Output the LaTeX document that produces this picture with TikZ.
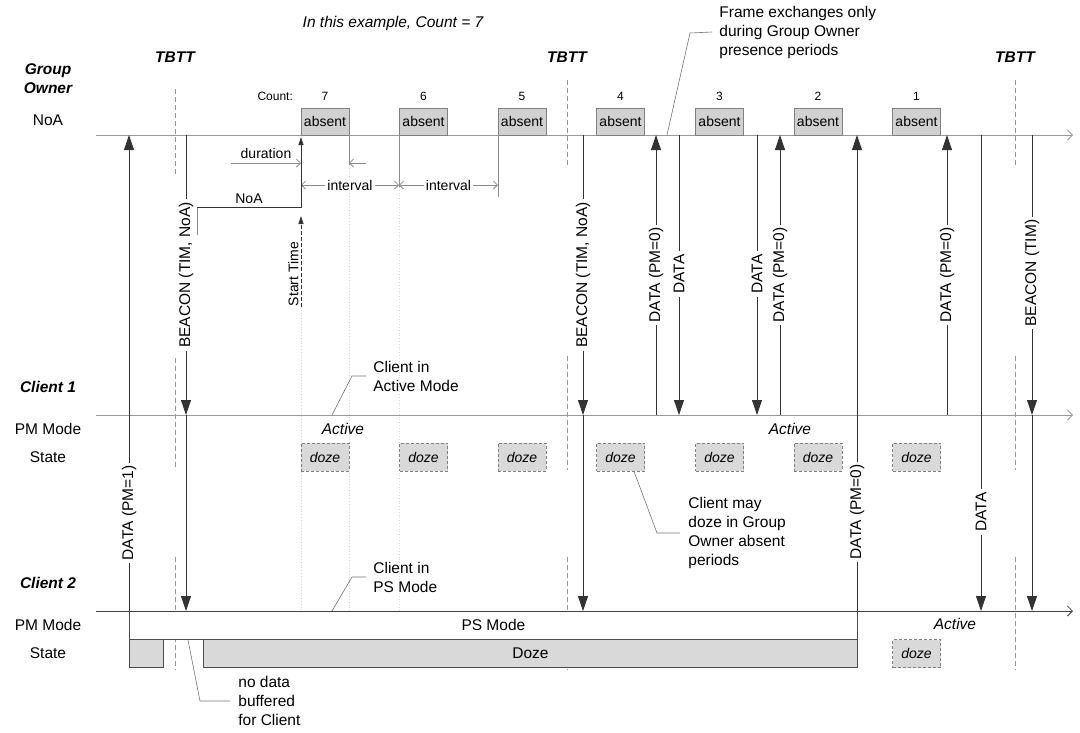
\documentclass[tikz,border=0pt]{standalone}
\usepackage{fontspec}
\setmainfont{Liberation Sans}
\usetikzlibrary{positioning, arrows.meta}

\begin{document}
\begin{tikzpicture}[
    x=1pt, y=-1pt,
    line width=0.8pt,
    node distance=7pt,
    every node/.style={font=\fontsize{15.5}{19}\selectfont, inner sep=0pt},
    lane/.style={font=\fontsize{15.5}{19}\selectfont\bfseries\itshape, align=center},
    small/.style={font=\fontsize{14}{17}\selectfont},
    cnt/.style={font=\fontsize{12}{14}\selectfont},
    mode/.style={font=\fontsize{15.5}{19}\selectfont\itshape},
    axis/.style={draw=black!40, -{Straight Barb[length=5pt,width=10pt]}},
    msg/.style={draw=black!80, -{Triangle[length=15pt,width=10pt]}},
    tick/.style={draw=black!80, -{Triangle[length=8pt,width=5pt]}},
    vlbl/.style={rotate=90, fill=white, inner xsep=3pt, inner ysep=1pt},
    absbox/.style={draw=black!50, fill=black!18, minimum width=48pt, minimum height=27pt, font=\fontsize{14}{17}\selectfont},
    dozebox/.style={draw=black!50, dash pattern=on 3pt off 2pt, fill=black!15, minimum width=48pt, minimum height=28pt, font=\fontsize{14}{17}\selectfont\itshape},
    statebar/.style={draw=black!70, fill=black!15, minimum height=28pt, anchor=north west},
    tbttline/.style={draw=black!40, dash pattern=on 5pt off 3pt},
    guide/.style={draw=black!45},
    faint/.style={draw=black!15, dotted},
    dimarr/.style={draw=black!45, -{Straight Barb[length=4pt,width=8pt]}},
    dimboth/.style={draw=black!45, {Straight Barb[length=4pt,width=8pt]}-{Straight Barb[length=4pt,width=8pt]}},
    leader/.style={draw=black!55, line width=0.6pt},
    note/.style={align=left, anchor=west},
]
    \useasboundingbox (0,0) rectangle (1080,732);
    \def\yGO{135}
    \def\yCa{415}
    \def\yCb{611}

    % 1. Lane labels
    \node[lane] (go_lbl) at (48,79) {Group\\Owner};
    \node (go_noa) at (48,120) {NoA};
    \node[lane] (c1_lbl) at (48,387) {Client 1};
    \node (c1_pm) at (48,429) {PM Mode};
    \node (c1_st) at (48,457) {State};
    \node[lane] (c2_lbl) at (48,583) {Client 2};
    \node (c2_pm) at (48,625) {PM Mode};
    \node (c2_st) at (48,653) {State};

    % 2. Title and TBTT marks
    \node[mode] (title) at (393,23) {In this example, Count = 7};
    \node[lane] (tbtt_a) at (175,57) {TBTT};
    \node[lane] (tbtt_b) at (567,57) {TBTT};
    \node[lane] (tbtt_c) at (1015,57) {TBTT};
    \draw[tbttline] (175,89) -- (175,175);
    \draw[tbttline] (175,358) -- (175,470);
    \draw[tbttline] (175,557) -- (175,670);
    \draw[tbttline] (567,80) -- (567,165);
    \draw[tbttline] (567,356) -- (567,470);
    \draw[tbttline] (567,557) -- (567,670);
    \draw[tbttline] (1015,80) -- (1015,165);
    \draw[tbttline] (1015,356) -- (1015,470);
    \draw[tbttline] (1015,557) -- (1015,670);

    % 3. Time lines
    \coordinate (go_start) at (96,\yGO);
    \coordinate (go_end) at (1073,\yGO);
    \coordinate (c1_start) at (96,\yCa);
    \coordinate (c1_end) at (1073,\yCa);
    \coordinate (c2_start) at (96,\yCb);
    \coordinate (c2_end) at (1073,\yCb);
    \draw[axis] (go_start) -- (go_end);
    \draw[axis] (c1_start) -- (c1_end);

    % 4. Absent periods of the Group Owner
    \node[absbox] (abs7) at (325,121.5) {absent};
    \node[absbox] (abs6) at (423.5,121.5) {absent};
    \node[absbox] (abs5) at (522,121.5) {absent};
    \node[absbox] (abs4) at (620.5,121.5) {absent};
    \node[absbox] (abs3) at (719.5,121.5) {absent};
    \node[absbox] (abs2) at (818,121.5) {absent};
    \node[absbox] (abs1) at (916.5,121.5) {absent};
    \node[cnt, above=of abs7] (cnt7) {7};
    \node[cnt, above=of abs6] (cnt6) {6};
    \node[cnt, above=of abs5] (cnt5) {5};
    \node[cnt, above=of abs4] (cnt4) {4};
    \node[cnt, above=of abs3] (cnt3) {3};
    \node[cnt, above=of abs2] (cnt2) {2};
    \node[cnt, above=of abs1] (cnt1) {1};
    \node[cnt, left=28pt of cnt7] (cnt_lbl) {Count:};

    % 5. NoA timing: duration, interval, start time
    \draw[faint] (301,307) -- (301,\yCb);
    \draw[faint] (349,165) -- (349,\yCb);
    \draw[faint] (399,187) -- (399,\yCb);
    \draw[guide] (349,\yGO) -- (349,165);
    \draw[guide] (399,\yGO) -- (399,187);
    \draw[guide] (498,\yGO) -- (498,197);
    \draw[dimarr] (231,163) -- node[small, above=4pt] (dur_lbl) {duration} (301,163);
    \draw[dimarr] (366,163) -- (349,163);
    \draw[dimboth] (301,185) -- node[small, fill=white, inner xsep=2pt] (int_a) {interval} (399,185);
    \draw[dimboth] (399,185) -- node[small, fill=white, inner xsep=2pt] (int_b) {interval} (498,185);
    \draw[guide] (197,235) -- (197,207);
    \draw[tick] (197,207) -- node[small, above=3pt] (noa_lbl) {NoA} (301,207) -- (301,137);
    \draw[tick, dash pattern=on 4pt off 2pt] (301,307) -- (301,216);
    \node[small, rotate=90, anchor=south] (st_lbl) at (299,274) {Start Time};

    % 6. Client 1 states
    \node[mode] (c1_act_a) at (343,429) {Active};
    \node[mode] (c1_act_b) at (790,429) {Active};
    \node[dozebox] (doze7) at (325,457) {doze};
    \node[dozebox] (doze6) at (423.5,457) {doze};
    \node[dozebox] (doze5) at (522,457) {doze};
    \node[dozebox] (doze4) at (620.5,457) {doze};
    \node[dozebox] (doze3) at (719.5,457) {doze};
    \node[dozebox] (doze2) at (818,457) {doze};
    \node[dozebox] (doze1) at (916.5,457) {doze};

    % 7. Client 2 states
    \node[draw=black!70, fill=white, minimum width=728pt, minimum height=28pt, anchor=north west] (c2_ps) at (129,\yCb) {PS Mode};
    \node[statebar, minimum width=34pt] (c2_dz_a) at (129,639) {};
    \node[statebar, minimum width=654pt] (c2_dz_b) at (203,639) {Doze};
    \node[mode] (c2_act) at (955,624) {Active};
    \node[dozebox] (c2_doze) at (916.5,653.5) {doze};
    \draw[axis, draw=black!75] (c2_start) -- (c2_end);

    % --- Frame exchanges ---
    \draw[msg] (129,\yCb) -- (129,\yGO);
    \draw[msg] (186,\yGO) -- (186,\yCa);
    \draw[msg] (186,\yCa) -- (186,\yCb);
    \draw[msg] (583,\yGO) -- (583,\yCa);
    \draw[msg] (583,\yCa) -- (583,\yCb);
    \draw[msg] (656,\yCa) -- (656,\yGO);
    \draw[msg] (679,\yGO) -- (679,\yCa);
    \draw[msg] (757,\yGO) -- (757,\yCa);
    \draw[msg] (780,\yCa) -- (780,\yGO);
    \draw[msg] (857,\yCb) -- (857,\yGO);
    \draw[msg] (947,\yCa) -- (947,\yGO);
    \draw[msg] (981,\yGO) -- (981,\yCb);
    \draw[msg] (1032,\yGO) -- (1032,\yCa);
    \draw[msg] (1032,\yCa) -- (1032,\yCb);

    \node[vlbl] (m_data_pm1) at (129,513) {DATA (PM=1)};
    \node[vlbl] (m_beacon_a) at (186,275) {BEACON (TIM, NoA)};
    \node[vlbl] (m_beacon_b) at (583,275) {BEACON (TIM, NoA)};
    \node[vlbl] (m_data_a) at (656,275) {DATA (PM=0)};
    \node[vlbl] (m_data_b) at (679,274) {DATA};
    \node[vlbl] (m_data_c) at (757,274) {DATA};
    \node[vlbl] (m_data_d) at (780,275) {DATA (PM=0)};
    \node[vlbl] (m_data_e) at (857,512) {DATA (PM=0)};
    \node[vlbl] (m_data_f) at (947,275) {DATA (PM=0)};
    \node[vlbl] (m_data_g) at (981,512) {DATA};
    \node[vlbl] (m_beacon_c) at (1032,273) {BEACON (TIM)};

    % --- Notes ---
    \node[note] (frame_note) at (719,32) {Frame exchanges only\\during Group Owner\\presence periods};
    \draw[leader] (667,\yGO) -- (690,33) -- ([xshift=-7pt]frame_note.west);

    \node[note] (c1_note) at (373,376) {Client in\\Active Mode};
    \draw[leader] (332,\yCa) -- (352,376) -- ([xshift=-7pt]c1_note.west);

    \node[note] (c2_note) at (373,577) {Client in\\PS Mode};
    \draw[leader] (332,\yCb) -- (352,577) -- ([xshift=-7pt]c2_note.west);

    \node[note] (doze_note) at (688,533) {Client may\\doze in Group\\Owner absent\\periods};
    \draw[leader] ([xshift=13.5pt]doze4.south) -- (657,533) -- ([xshift=-8pt]doze_note.west);

    \node[note] (nodata_note) at (238,701) {no data\\buffered\\for Client};
    \draw[leader] (188,640) -- (200,701) -- ([xshift=-8pt]nodata_note.west);

\end{tikzpicture}
\end{document}
